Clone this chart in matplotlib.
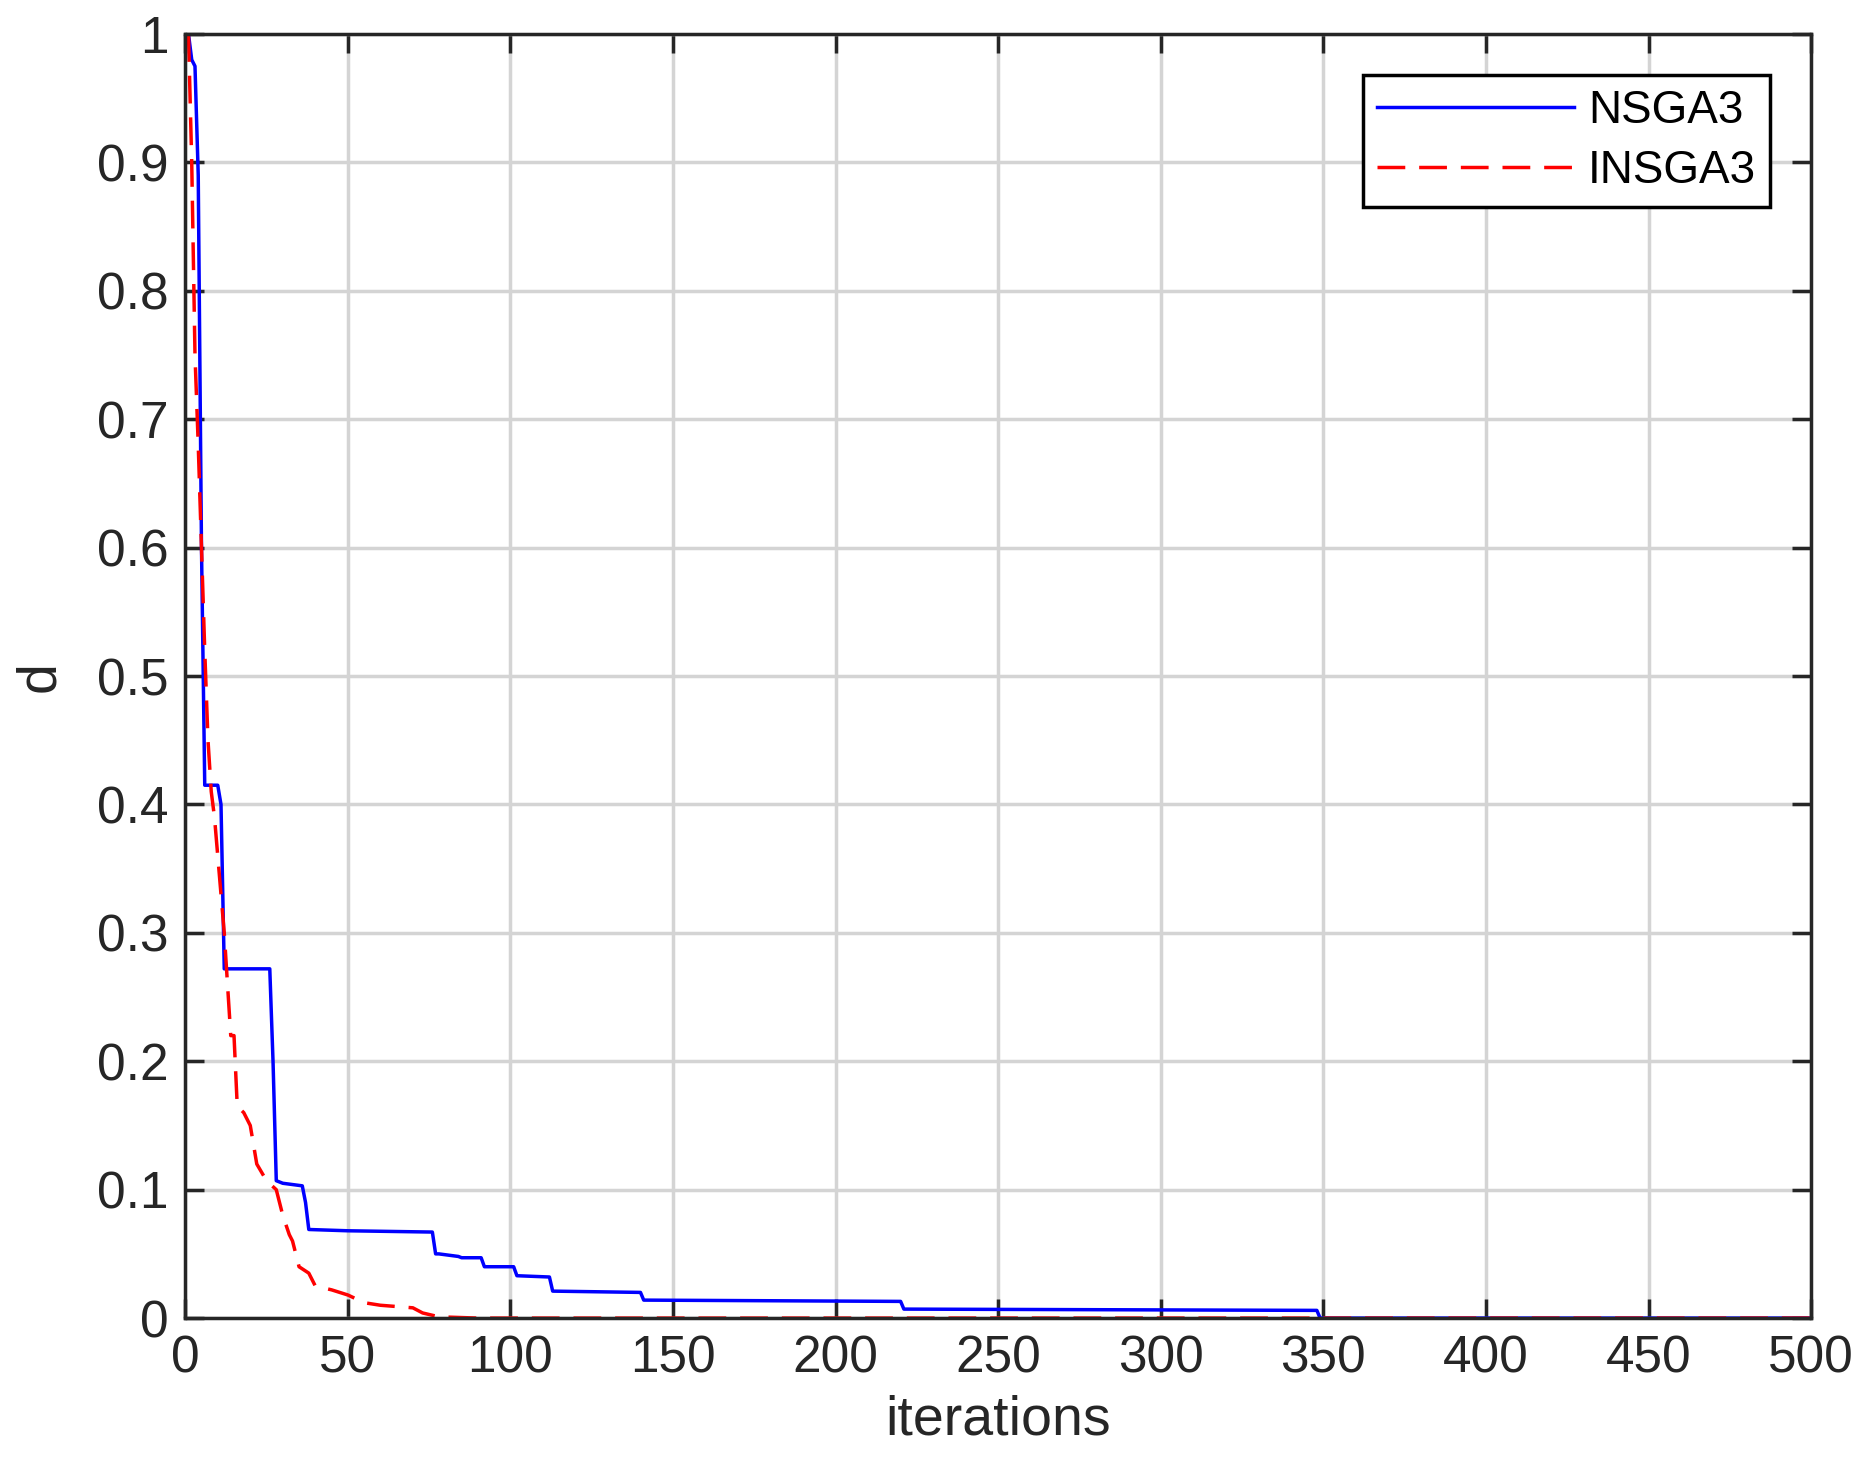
import matplotlib
matplotlib.use("Agg")
import matplotlib.pyplot as plt

# breakpoints
nsga3_x = [1, 2, 3, 4, 5, 6, 10, 11, 12, 26, 27, 28, 30, 36, 37, 38, 50, 76, 77, 78,
           84, 85, 91, 92, 101, 102, 112, 113, 140, 141, 220, 221, 348, 349, 500]
nsga3_y = [1.0, 0.98, 0.975, 0.89, 0.6, 0.415, 0.415, 0.40, 0.272, 0.272, 0.2, 0.107,
           0.105, 0.103, 0.09, 0.069, 0.068, 0.067, 0.05, 0.05, 0.048, 0.047, 0.047,
           0.04, 0.04, 0.033, 0.032, 0.021, 0.02, 0.014, 0.013, 0.007, 0.006, 0.0, 0.0]

insga3_x = [1, 2, 3, 4, 5, 6, 7, 8, 9, 10, 11, 12, 13, 14, 15, 16, 18, 20, 22, 25, 28,
            30, 32, 33, 35, 38, 40, 45, 50, 55, 60, 70, 73, 78, 90, 500]
insga3_y = [1.0, 0.9, 0.75, 0.68, 0.6, 0.52, 0.45, 0.41, 0.39, 0.36, 0.33, 0.3, 0.26,
            0.22, 0.22, 0.165, 0.16, 0.15, 0.12, 0.107, 0.1, 0.08, 0.065, 0.06, 0.04,
            0.035, 0.025, 0.022, 0.018, 0.012, 0.01, 0.008, 0.004, 0.001, 0.0, 0.0]

plt.rcParams["font.family"] = ["Liberation Sans", "DejaVu Sans"]

fig = plt.figure(figsize=(18.71, 14.81), dpi=100)
ax = fig.add_axes([0.099, 0.110, 0.869, 0.867])
ax.plot(nsga3_x, nsga3_y, color="#0000ff", linewidth=2.5, label="NSGA3")
ax.plot(insga3_x, insga3_y, color="#ff0000", linewidth=2.5, dashes=(8, 4), label="INSGA3")

ax.set_xlim(0, 500)
ax.set_ylim(0, 1)
ax.set_xticks(range(0, 501, 50))
ax.set_yticks([i / 10 for i in range(11)])
ax.set_yticklabels(["0", "0.1", "0.2", "0.3", "0.4", "0.5", "0.6", "0.7", "0.8", "0.9", "1"])
ax.grid(True, color="#d4d4d4", linewidth=2.5)
ax.tick_params(direction="in", length=14, width=2.5, labelsize=37, top=True, right=True,
               colors="#262626", pad=12)
for s in ax.spines.values():
    s.set_linewidth(2.5)
    s.set_color("#262626")
ax.set_xlabel("iterations", fontsize=40, color="#262626", labelpad=8)
ax.set_ylabel("d", fontsize=40, color="#262626", labelpad=22)

leg = ax.legend(loc="upper right", fontsize=33, fancybox=False, framealpha=1,
                edgecolor="black", handlelength=4.3, borderaxespad=0.9,
                handletextpad=0.3, borderpad=0.3, labelspacing=0.35)
leg.get_frame().set_linewidth(2.5)

fig.savefig("out.png", dpi=100)
